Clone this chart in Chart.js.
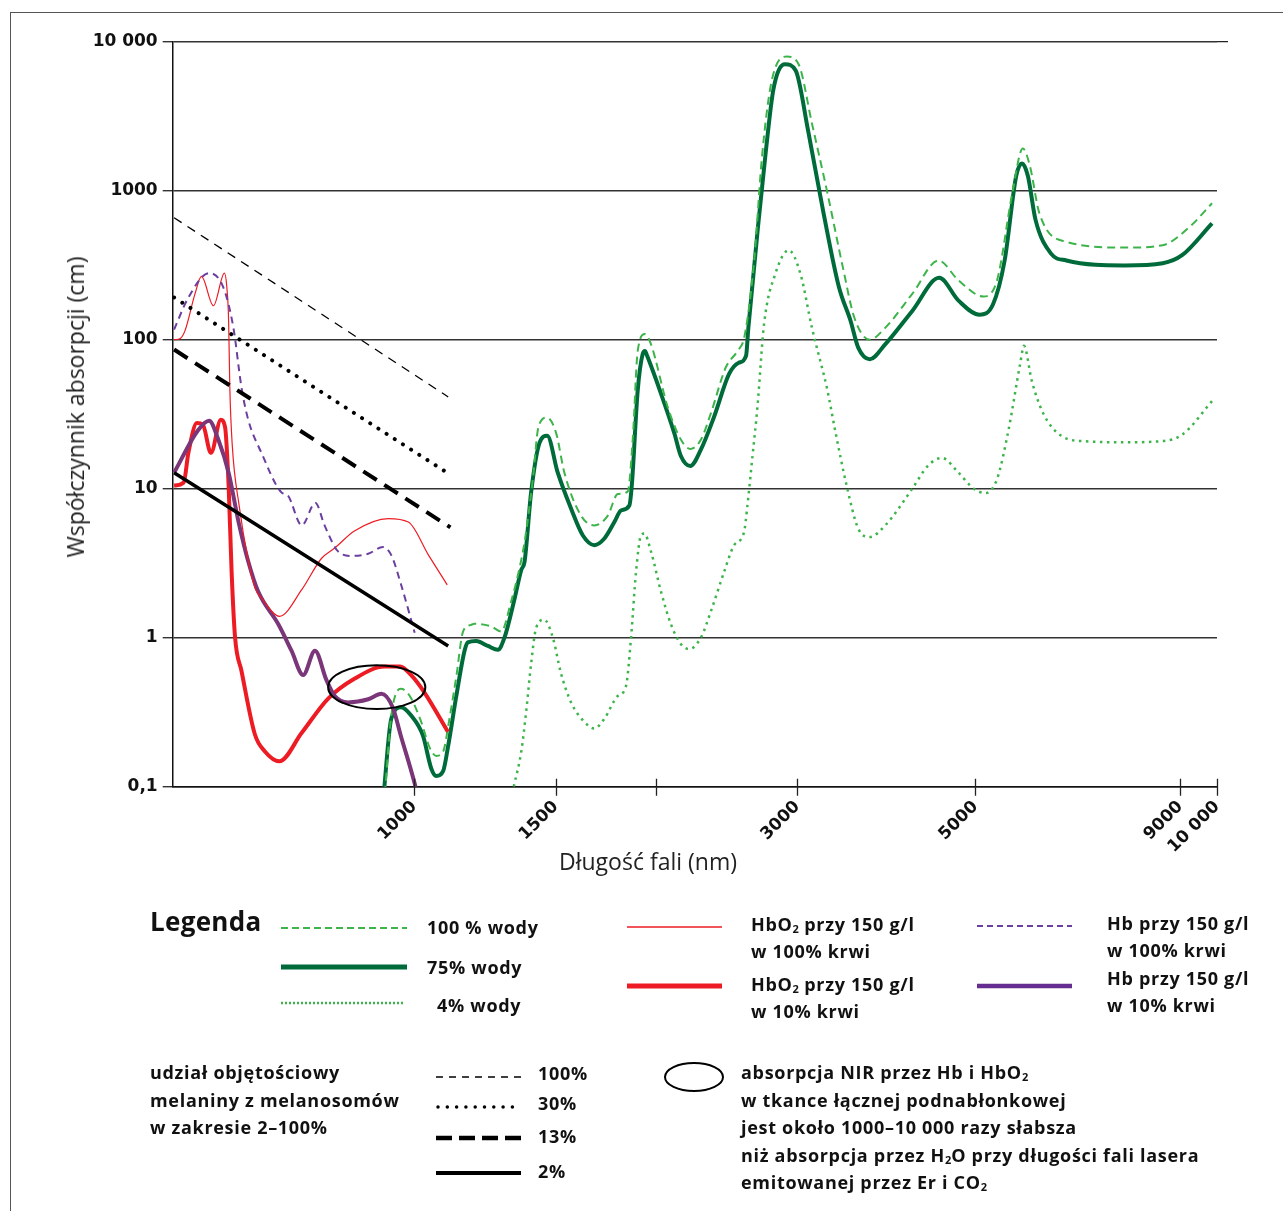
<!DOCTYPE html>
<html>
<head>
<meta charset="utf-8">
<script src="https://cdn.jsdelivr.net/npm/chart.js@4.4.1/dist/chart.umd.min.js"></script>
<style>
  body { margin: 0; background: #fff; width: 1283px; height: 1211px; position: relative; overflow: hidden; font-family: "Open Sans", sans-serif; color: #111; }
  #frame { position: absolute; left: 10px; top: 12px; right: -2px; bottom: -2px; border-top: 1.5px solid #555; border-left: 1.5px solid #555; }
  #chart { position: absolute; left: 0; top: 0; }
  #marks { position: absolute; left: 0; top: 0; }
  .title { position: absolute; font-size: 23px; white-space: nowrap; color: #222; transform: translate(-50%, -50%); }
  .t { position: absolute; white-space: nowrap; font-weight: 700; font-size: 18px; letter-spacing: 0.7px; line-height: 27px; }
  .t sub { font-size: 11px; vertical-align: -2px; line-height: 0; letter-spacing: 0; }
</style>
</head>
<body>
<div id="frame"></div>
<canvas id="chart" width="1283" height="900"></canvas>

<div class="title" style="left:75px;top:407px;transform:translate(-50%,-50%) rotate(-90deg);">Współczynnik absorpcji (cm)</div>
<div class="title" style="left:648px;top:861px;">Długość fali (nm)</div>

<svg id="marks" width="1283" height="1211">
  <line x1="281" y1="928" x2="407" y2="928" stroke="#3cb44a" stroke-width="2" stroke-dasharray="7 4"/>
  <line x1="281" y1="967" x2="407" y2="967" stroke="#006b3a" stroke-width="5"/>
  <line x1="281" y1="1003" x2="405" y2="1003" stroke="#3cb44a" stroke-width="2.5" stroke-dasharray="2 2"/>
  <line x1="627" y1="927" x2="722" y2="927" stroke="#ed1c24" stroke-width="1.5"/>
  <line x1="627" y1="986" x2="722" y2="986" stroke="#ed1c24" stroke-width="5"/>
  <line x1="977" y1="926" x2="1072" y2="926" stroke="#6b3fa0" stroke-width="2" stroke-dasharray="6 4"/>
  <line x1="977" y1="986" x2="1072" y2="986" stroke="#662d91" stroke-width="4.5"/>
  <line x1="436" y1="1077" x2="521" y2="1077" stroke="#000" stroke-width="1.3" stroke-dasharray="7 6"/>
  <line x1="438" y1="1107" x2="521" y2="1107" stroke="#000" stroke-width="3.5" stroke-dasharray="0 9.3" stroke-linecap="round"/>
  <line x1="436" y1="1138" x2="521" y2="1138" stroke="#000" stroke-width="4.5" stroke-dasharray="16 7"/>
  <line x1="436" y1="1173" x2="521" y2="1173" stroke="#000" stroke-width="4"/>
  <ellipse cx="694" cy="1077" rx="29" ry="14" fill="none" stroke="#000" stroke-width="2"/>
</svg>

<div class="t" style="left:150px;top:904px;font-size:26px;line-height:34px;letter-spacing:0.3px;">Legenda</div>
<div class="t" style="left:427px;top:914px;">100 % wody</div>
<div class="t" style="left:427px;top:954px;">75% wody</div>
<div class="t" style="left:437px;top:992px;">4% wody</div>
<div class="t" style="left:751px;top:911px;">HbO<sub>2</sub> przy 150 g/l<br>w 100% krwi</div>
<div class="t" style="left:751px;top:971px;">HbO<sub>2</sub> przy 150 g/l<br>w 10% krwi</div>
<div class="t" style="left:1107px;top:910px;">Hb przy 150 g/l<br>w 100% krwi</div>
<div class="t" style="left:1107px;top:965px;">Hb przy 150 g/l<br>w 10% krwi</div>
<div class="t" style="left:150px;top:1059px;line-height:27.5px;">udział objętościowy<br>melaniny z melanosomów<br>w zakresie 2–100%</div>
<div class="t" style="left:538px;top:1060px;">100%</div>
<div class="t" style="left:538px;top:1090px;">30%</div>
<div class="t" style="left:538px;top:1123px;">13%</div>
<div class="t" style="left:538px;top:1158px;">2%</div>
<div class="t" style="left:741px;top:1059px;line-height:27.5px;">absorpcja NIR przez Hb i HbO<sub>2</sub><br>w tkance łącznej podnabłonkowej<br>jest około 1000–10 000 razy słabsza<br>niż absorpcja przez H<sub>2</sub>O przy długości fali lasera<br>emitowanej przez Er i CO<sub>2</sub></div>

<script>
// wavelength (nm), absorption coefficient (1/cm)
const water100 = [[919,0.09],[936,0.30],[962,0.454],[987,0.406],[1020,0.272],[1045,0.183],[1065,0.161],[1086,0.172],[1106,0.286],[1128,0.549],[1150,1.1],[1177,1.22],[1189,1.24],[1247,1.19],[1283,1.10],[1320,1.75],[1352,2.92],[1372,4.39],[1405,11.6],[1428,26.1],[1464,30],[1502,23.6],[1538,12.8],[1613,6.6],[1676,5.67],[1742,6.6],[1792,9.2],[1844,9.55],[1871,21.3],[1898,84],[1938,109],[1972,93],[2068,35.5],[2149,21.3],[2207,18.5],[2275,21.3],[2341,32],[2444,65.3],[2527,84],[2578,105],[2651,340],[2710,1650],[2786,5380],[2912,7950],[3011,7060],[3129,2820],[3271,963],[3418,308],[3533,141],[3693,100],[3860,120],[4172,203],[4498,340],[4764,250],[5117,195],[5320,250],[5559,963],[5729,1920],[5844,1480],[6008,705],[6491,454],[7663,415],[8559,431],[9249,573],[9858,824]];
const water75 = [[916,0.09],[936,0.286],[963,0.341],[991,0.30],[1025,0.22],[1050,0.132],[1065,0.118],[1086,0.127],[1101,0.183],[1128,0.406],[1155,0.818],[1166,0.93],[1194,0.95],[1235,0.88],[1271,0.83],[1295,1.0],[1333,1.82],[1359,2.85],[1372,3.24],[1398,9.45],[1432,20.3],[1464,22.7],[1509,12.8],[1568,7.33],[1621,4.87],[1676,4.18],[1725,4.63],[1775,5.97],[1809,7.14],[1853,7.72],[1866,10.5],[1898,45.6],[1925,80],[1938,84],[1950,78],[2029,43.5],[2108,23.6],[2149,16.5],[2207,14.2],[2275,18.3],[2363,30.4],[2467,58.9],[2536,70],[2590,78],[2607,120],[2680,573],[2741,1837],[2802,4830],[2896,7060],[2986,6400],[3094,2540],[3235,705],[3381,225],[3495,134],[3573,88.5],[3693,74],[3860,93],[4172,156],[4508,260],[4764,183],[5061,147],[5260,173],[5438,340],[5622,1260],[5716,1520],[5812,1260],[5942,637],[6212,378],[6491,340],[7663,315],[8559,326],[9046,369],[9858,604]];
const water4 = [[1330,0.1],[1359,0.172],[1378,0.316],[1398,0.67],[1418,1.16],[1452,1.32],[1488,1.0],[1523,0.577],[1568,0.367],[1629,0.272],[1676,0.246],[1725,0.286],[1792,0.406],[1835,0.472],[1862,1.0],[1889,2.77],[1916,4.87],[1934,5.0],[1972,3.78],[2029,2.04],[2088,1.23],[2149,0.904],[2200,0.84],[2275,1.0],[2341,1.5],[2432,2.77],[2503,4.18],[2575,5.12],[2600,7.7],[2638,16.5],[2676,35.5],[2727,127],[2817,277],[2928,398],[3027,277],[3129,120],[3271,45.6],[3343,24.8],[3456,10.5],[3573,5.4],[3693,4.74],[3860,5.67],[4172,10],[4360,14.2],[4542,16.1],[4764,12.8],[4977,10],[5145,9.35],[5320,11.6],[5499,24.8],[5685,68.6],[5748,91],[5878,53],[6075,32],[6420,22.4],[6860,20.8],[7663,20.5],[8559,20.9],[9046,23],[9881,39.3]];
const hbo2Blood100 = [[502,100],[511,102],[518,115],[533,203],[543,266],[562,169],[580,280],[584,225],[587,134],[589,48],[593,20],[605,7.7],[621,3.3],[633,2.15],[645,1.85],[679,1.39],[724,2.1],[766,3.4],[796,4.0],[842,5.2],[928,6.3],[983,5.97],[1041,3.6],[1099,2.26]];
const hbo2Blood10 = [[502,10.5],[516,11],[523,17.4],[536,27.6],[545,27],[558,17.4],[574,29],[581,26],[587,10.5],[592,2.8],[598,1.0],[609,0.6],[633,0.224],[651,0.173],[679,0.148],[724,0.23],[781,0.39],[842,0.53],[918,0.64],[960,0.64],[991,0.56],[1029,0.43],[1101,0.234]];
const hbBlood100 = [[502,117],[523,192],[555,280],[578,225],[595,121],[609,48],[621,29],[645,17.4],[683,9.45],[696,8.98],[724,5.67],[753,8.03],[773,5.67],[804,3.78],[835,3.54],[876,3.66],[914,4.06],[936,3.58],[963,2.26],[1001,1.08]];
const hbBlood10 = [[502,12.8],[538,24.8],[555,28.6],[570,21.3],[587,12.8],[604,5.97],[621,3.25],[639,2.04],[677,1.23],[703,0.818],[727,0.562],[752,0.818],[777,0.521],[796,0.406],[827,0.368],[876,0.386],[910,0.42],[940,0.34],[962,0.22],[1001,0.105],[1010,0.085]];
const melanin100 = [[502,659],[1102,41.3]];
const melanin30 = [[502,192],[1109,12.4]];
const melanin13 = [[502,85.9],[1109,5.5]];
const melanin2 = [[502,12.8],[1102,0.88]];
// NIR region marked with the ellipse: [x from, x to, y from, y to]
const nirEllipse = [781, 1032, 0.332, 0.653];

const xTickValues = [1000, 1500, 2000, 3000, 5000, 9000, 10000];
const xTickLabels = ['1000', '1500', '', '3000', '5000', '9000', '10 000'];
const yTickValues = [0.1, 1, 10, 100, 1000, 10000];
const yTickLabels = ['0,1', '1', '10', '100', '1000', '10 000'];

const pts = arr => arr.map(p => ({ x: p[0], y: p[1] }));

function series(data, color, width, dash, cap) {
  return {
    data: pts(data),
    borderColor: color,
    borderWidth: width,
    borderDash: dash || [],
    borderCapStyle: cap || 'butt',
    borderJoinStyle: 'round',
    pointRadius: 0,
    fill: false,
    cubicInterpolationMode: 'monotone',
  };
}

const extras = {
  id: 'extras',
  afterDatasetsDraw(chart) {
    const { ctx, scales: { x, y } } = chart;
    const x0 = x.getPixelForValue(nirEllipse[0]);
    const x1 = x.getPixelForValue(nirEllipse[1]);
    const y0 = y.getPixelForValue(nirEllipse[3]);
    const y1 = y.getPixelForValue(nirEllipse[2]);
    ctx.save();
    ctx.beginPath();
    ctx.ellipse((x0 + x1) / 2, (y0 + y1) / 2, (x1 - x0) / 2, (y1 - y0) / 2, 0, 0, Math.PI * 2);
    ctx.lineWidth = 2;
    ctx.strokeStyle = '#000';
    ctx.stroke();
    ctx.restore();
  },
  afterDraw(chart) {
    const { ctx, chartArea, scales: { x, y } } = chart;
    ctx.save();
    ctx.strokeStyle = '#222';
    ctx.lineWidth = 1.3;
    ctx.beginPath();
    for (const v of xTickValues) {
      const px = Math.round(x.getPixelForValue(v)) + 0.5;
      ctx.moveTo(px, chartArea.bottom - 8);
      ctx.lineTo(px, chartArea.bottom + 9);
    }
    const top = y.getPixelForValue(10000);
    ctx.moveTo(chartArea.right, top);
    ctx.lineTo(chartArea.right + 11, top);
    ctx.stroke();
    ctx.restore();
  }
};

new Chart(document.getElementById('chart'), {
  type: 'line',
  data: {
    datasets: [
      series(melanin100, '#000', 1.3, [9, 7]),
      series(melanin30, '#000', 4, [0.01, 9.7], 'round'),
      series(melanin13, '#000', 4, [16, 9]),
      series(melanin2, '#000', 3.5),
      series(hbBlood100, '#6b3fa0', 2, [7, 5]),
      series(hbo2Blood100, '#ed1c24', 1.2),
      series(hbBlood10, '#7b3679', 4),
      series(hbo2Blood10, '#ed1c24', 4),
      series(water4, '#3cb44a', 2.5, [2.5, 4.5]),
      series(water100, '#3cb44a', 2, [8, 5]),
      series(water75, '#006b3a', 4),
    ],
  },
  options: {
    responsive: false,
    animation: false,
    devicePixelRatio: 1,
    layout: { padding: { left: 0, top: 41.7, right: 66, bottom: 0 } },
    plugins: { legend: { display: false }, tooltip: { enabled: false } },
    scales: {
      x: {
        type: 'logarithmic',
        min: 500,
        max: 10000,
        afterBuildTicks: s => { s.ticks = xTickValues.map(v => ({ value: v })); },
        afterFit: s => { s.height = 113.3; },
        grid: { display: false },
        border: { display: true, color: '#111', width: 1.5 },
        ticks: {
          autoSkip: false,
          minRotation: 45,
          maxRotation: 45,
          padding: 2,
          color: '#111',
          font: { family: 'DejaVu Sans', weight: 'bold', size: 17 },
          callback: v => xTickLabels[xTickValues.indexOf(v)],
        },
      },
      y: {
        type: 'logarithmic',
        min: 0.1,
        max: 10000,
        afterBuildTicks: s => { s.ticks = yTickValues.map(v => ({ value: v })); },
        afterFit: s => { s.width = 172.7; },
        grid: { color: '#333', lineWidth: 1.4, tickLength: 10, drawTicks: true },
        border: { display: true, color: '#111', width: 1.5 },
        ticks: {
          padding: 5,
          color: '#111',
          font: { family: 'DejaVu Sans', weight: 'bold', size: 17 },
          callback: v => yTickLabels[yTickValues.indexOf(v)],
        },
      },
    },
  },
  plugins: [extras],
});
</script>
</body>
</html>
